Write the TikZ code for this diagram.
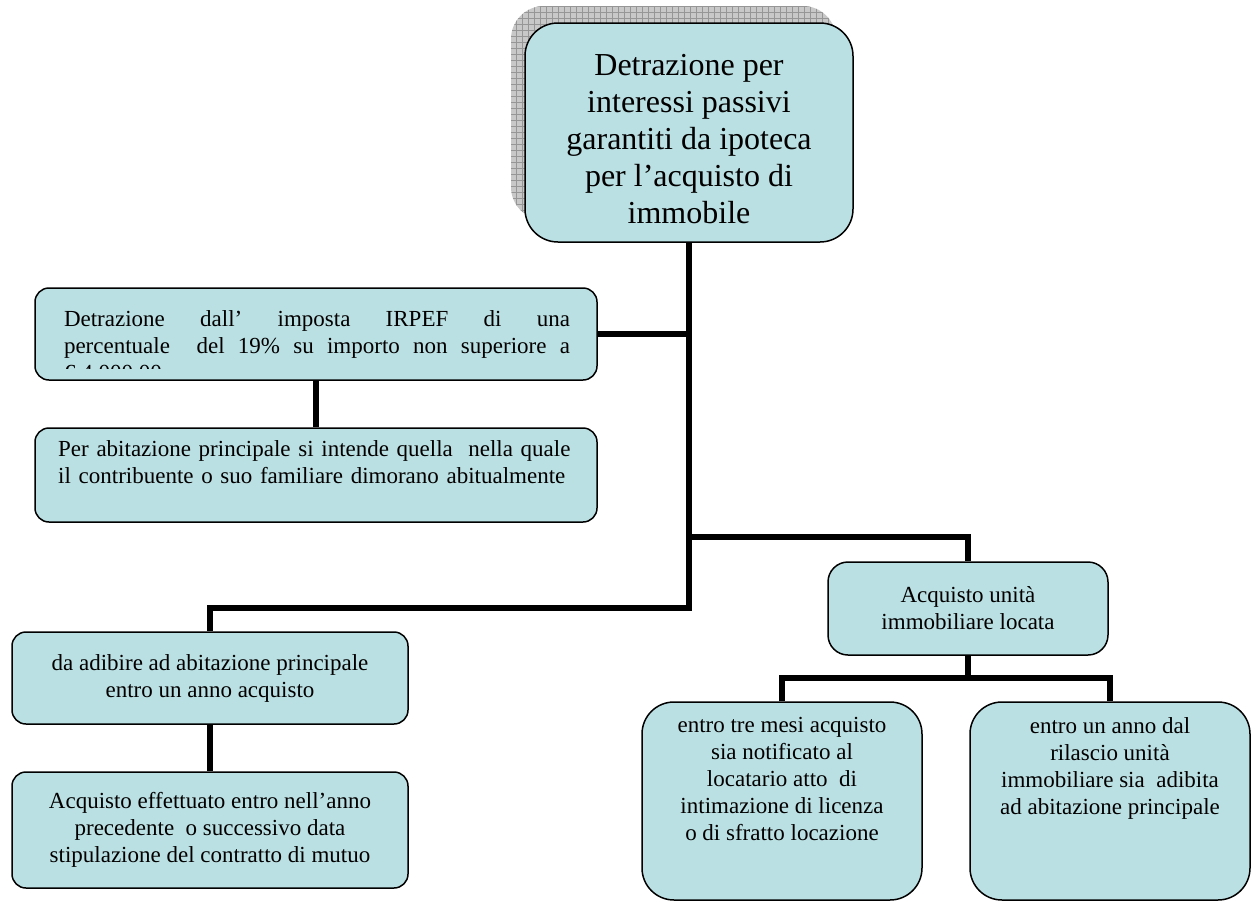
\documentclass[tikz,border=0pt]{standalone}
\usepackage{fontspec}
\setmainfont{Liberation Serif}
\usetikzlibrary{positioning}
\definecolor{boxblue}{RGB}{187,224,227}
\definecolor{shadowgray}{RGB}{200,200,200}
\definecolor{gridgray}{RGB}{150,150,150}
\newcommand{\smalltxt}{\fontsize{23}{27}\selectfont}
\newcommand{\bigtxt}{\fontsize{32}{37}\selectfont}
\begin{document}
\begin{tikzpicture}[x=1pt,y=-1pt,
  box/.style={draw=black, line width=1.5pt, fill=boxblue, inner sep=0pt},
  link/.style={line width=6pt},
  txt/.style={font=\smalltxt, align=center, inner sep=0pt}]
\useasboundingbox (0,0) rectangle (1256,902);
% shadow of the title box
\begin{scope}
  \clip[rounded corners=33pt] (511,6) rectangle (836,220);
  \fill[shadowgray] (511,6) rectangle (836,220);
  \draw[gridgray, line width=0.6pt, step=6pt] (511,6) grid (836,220);
\end{scope}
\node[box, rounded corners=33pt, minimum width=328pt, minimum height=219pt,
      font=\bigtxt, align=center] (title) at (689,132.5)
  {\rule{0pt}{35pt}Detrazione per\\interessi passivi\\garantiti da ipoteca\\per l’acquisto di\\immobile};

% left upper boxes
\node[box, rounded corners=14pt, minimum width=562pt, minimum height=92pt] (irpef) at (316,334) {};
\begin{scope}
  \clip (37,290) rectangle (595,368);
  \node[txt, anchor=north, text width=506pt, align=justify] (irpeftxt) at (317,310)
    {Detrazione dall’ imposta IRPEF di una\linebreak percentuale\ \ del 19\% su importo non superiore a\linebreak € 4.000,00};
\end{scope}
\node[box, rounded corners=14pt, minimum width=562pt, minimum height=94pt] (abit) at (316,475) {};
\node[txt, anchor=north west, text width=530pt, align=left] (abittxt) at (58,440)
  {Per abitazione principale si intende quella\ \ nella quale\\il contribuente o suo familiare dimorano abitualmente};

% left lower boxes
\node[box, rounded corners=14pt, minimum width=396pt, minimum height=92pt, txt] (adib) at (210,678)
  {da adibire ad abitazione principale\\entro un anno acquisto};
\node[box, rounded corners=14pt, minimum width=396pt, minimum height=116pt, txt] (effett) at (210,830)
  {Acquisto effettuato entro nell’anno\\precedente\ \ o successivo data\\stipulazione del contratto di mutuo};

% right boxes
\node[box, rounded corners=20pt, minimum width=280pt, minimum height=93pt, txt] (locata) at (968,608.5)
  {Acquisto unità\\immobiliare locata};
\node[box, rounded corners=32pt, minimum width=280pt, minimum height=198pt] (tremesi) at (782,801) {};
\node[txt, below=16pt of tremesi.north] (tremesitxt)
  {entro tre mesi acquisto\\sia notificato al\\locatario atto\ \ di\\intimazione di licenza\\o di sfratto locazione};
\node[box, rounded corners=32pt, minimum width=280pt, minimum height=198pt] (unanno) at (1110,801) {};
\node[txt, below=16pt of unanno.north] (unannotxt)
  {entro un anno dal\\rilascio unità\\immobiliare sia\ \ adibita\\ad abitazione principale};

% connectors
\coordinate (jl) at (689,608);
\coordinate (jr) at (689,537);
\coordinate (jb) at (968,678);
\draw[link] (title.south) -- (jl) -| (adib.north);
\draw[link] (irpef.east) -- (irpef.east -| title.south);
\draw[link] (jr) -| (locata.north);
\draw[link] (irpef.south) -- (abit.north);
\draw[link] (adib.south) -- (effett.north);
\draw[link] (locata.south) -- (jb);
\draw[link] (tremesi.north) |- (jb) -| (unanno.north);
\end{tikzpicture}
\end{document}
